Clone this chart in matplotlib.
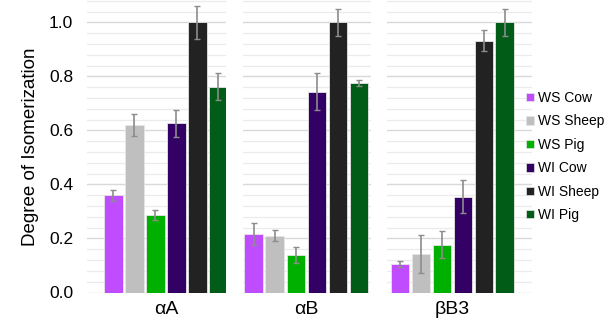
import matplotlib.pyplot as plt
from matplotlib.patches import Patch
from matplotlib.ticker import MultipleLocator

plt.rcParams['font.family'] = ['Liberation Sans', 'DejaVu Sans']

groups = ["αA", "αB", "βB3"]
series = ["WS Cow", "WS Sheep", "WS Pig", "WI Cow", "WI Sheep", "WI Pig"]
colors = ["#bf4dff", "#bfbfbf", "#00b000", "#330066", "#222222", "#005c16"]

values = {
    "αA":  [0.36, 0.62, 0.287, 0.627, 1.0, 0.762],
    "αB":  [0.217, 0.21, 0.138, 0.744, 1.0, 0.775],
    "βB3": [0.105, 0.142, 0.176, 0.355, 0.933, 1.0],
}
errors = {
    "αA":  [0.02, 0.04, 0.02, 0.05, 0.06, 0.05],
    "αB":  [0.04, 0.02, 0.03, 0.07, 0.05, 0.01],
    "βB3": [0.01, 0.07, 0.05, 0.06, 0.04, 0.05],
}

W, H = 605, 322
fig = plt.figure(figsize=(W / 100, H / 100), dpi=100)

# panel pixel extents and x-limits (so bars land where the original has them)
panels = [(87, 226, (-1.26, 5.36)), (243, 371, (-0.52, 5.57)), (387, 532, (-0.62, 6.29))]
y0_px = 292.5

axes = []
for i, (g, (l, r, xl)) in enumerate(zip(groups, panels)):
    ax = fig.add_axes([l / W, (H - y0_px) / H, (r - l) / W, y0_px / H])
    x = range(len(series))
    ax.bar(x, values[g], width=0.9, color=colors, edgecolor="#e6e6e6", linewidth=0.6, zorder=3)
    ax.errorbar(x, values[g], yerr=errors[g], fmt="none", ecolor="#8c8c8c",
                elinewidth=1.2, capsize=2, capthick=1, zorder=4)
    ax.set_xlim(*xl)
    ax.set_ylim(0, 1.083)
    ax.yaxis.set_major_locator(MultipleLocator(0.2))
    ax.yaxis.set_minor_locator(MultipleLocator(0.04))
    ax.grid(which="major", axis="y", color="#d9d9d9", linewidth=1.0, zorder=0)
    ax.grid(which="minor", axis="y", color="#ebebeb", linewidth=0.9, zorder=0)
    ax.set_xticks([2.5])
    ax.set_xticklabels([g], fontsize=14)
    ax.tick_params(axis="x", length=0, pad=6)
    for s in ax.spines.values():
        s.set_visible(False)
    if i == 0:
        ax.tick_params(axis="y", which="both", length=0, pad=10, labelsize=12.5)
        ax.set_yticks([0, 0.2, 0.4, 0.6, 0.8, 1.0])
        ax.set_yticklabels(["0.0", "0.2", "0.4", "0.6", "0.8", "1.0"])
        ax.set_ylabel("Degree of Isomerization", fontsize=13.5, labelpad=7)
    else:
        ax.tick_params(axis="y", which="both", length=0, labelleft=False)
    axes.append(ax)

handles = [Patch(facecolor=c, edgecolor="#e6e6e6", linewidth=0.5) for c in colors]
fig.legend(handles, series, loc="upper left", bbox_to_anchor=(526 / W, 1 - 91 / H),
           frameon=False, fontsize=10, handlelength=0.55, handleheight=0.55,
           handletextpad=0.3, labelspacing=0.68, borderaxespad=0, borderpad=0)

fig.savefig("out.png", dpi=100)
